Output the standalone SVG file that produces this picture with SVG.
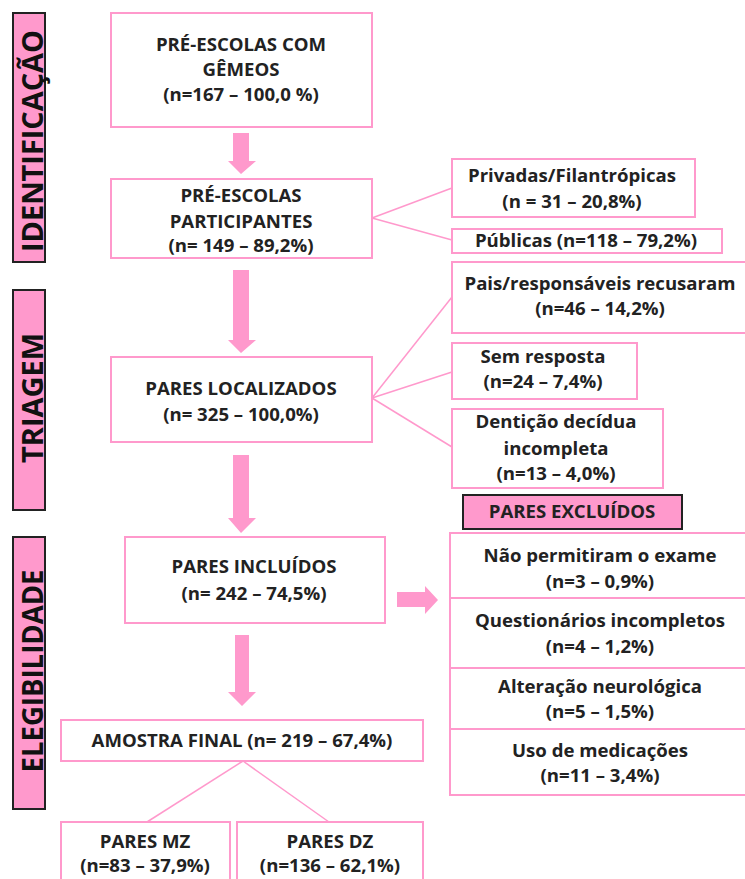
<svg xmlns="http://www.w3.org/2000/svg" width="745" height="879" viewBox="0 0 745 879">
<style>
.bx{fill:#fff;stroke:#ff99cc;stroke-width:2}
.lb{fill:#ff99cc;stroke:#222;stroke-width:2}
.t{font-family:"Open Sans","Noto Sans","Liberation Sans",sans-serif;font-weight:bold;font-size:18.6px;fill:#222;text-anchor:middle}
.v{font-family:"Open Sans","Noto Sans","Liberation Sans",sans-serif;font-weight:bold;font-size:28px;fill:#111;text-anchor:middle}
.ln{stroke:#ff99cc;stroke-width:1.5;fill:none}
.ar{fill:#ff99cc}
</style>
<rect width="745" height="879" fill="#fff"/>
<g id="lbl-identificacao"><rect class="lb" x="13" y="13" width="32" height="249"/><text class="v" transform="translate(43,141) rotate(-90)" textLength="222" lengthAdjust="spacingAndGlyphs">IDENTIFICAÇÃO</text></g>
<g id="lbl-triagem"><rect class="lb" x="13" y="290" width="32" height="220"/><text class="v" transform="translate(43,398) rotate(-90)" textLength="130" lengthAdjust="spacingAndGlyphs">TRIAGEM</text></g>
<g id="lbl-elegibilidade"><rect class="lb" x="13" y="537" width="32" height="272"/><text class="v" transform="translate(43,671) rotate(-90)" textLength="203" lengthAdjust="spacingAndGlyphs">ELEGIBILIDADE</text></g>

<g id="connectors">
<polygon class="ar" points="233,133 249,133 249,161 256,161 241,174 228,161 233,161"/>
<polygon class="ar" points="233,270 249,270 249,340 256,340 241,353 228,340 233,340"/>
<polygon class="ar" points="233,455 249,455 249,518 256,518 241,533 228,518 233,518"/>
<polygon class="ar" points="235,635 249,635 249,692 256,692 242,706 228,692 235,692"/>
<polygon class="ar" points="397,592 425,592 425,586 438,600 425,614 425,607 397,607"/>
<line class="ln" x1="372" y1="218" x2="452" y2="188"/>
<line class="ln" x1="372" y1="218" x2="452" y2="240"/>
<line class="ln" x1="372" y1="398" x2="452" y2="297"/>
<line class="ln" x1="372" y1="398" x2="452" y2="372"/>
<line class="ln" x1="372" y1="398" x2="452" y2="447"/>
<line class="ln" x1="243" y1="761" x2="147" y2="822"/>
<line class="ln" x1="243" y1="761" x2="329" y2="822"/>
</g>

<g id="n-preescolas"><rect class="bx" x="111" y="13" width="261" height="114"/><text class="t" x="241" y="51">PRÉ-ESCOLAS COM</text><text class="t" x="241" y="76">GÊMEOS</text><text class="t" x="241" y="101">(n=167 – 100,0 %)</text></g>
<g id="n-participantes"><rect class="bx" x="111" y="179" width="261" height="79"/><text class="t" x="241" y="202">PRÉ-ESCOLAS</text><text class="t" x="241" y="228">PARTICIPANTES</text><text class="t" x="241" y="252">(n= 149 – 89,2%)</text></g>
<g id="n-localizados"><rect class="bx" x="111" y="357" width="261" height="85"/><text class="t" x="241" y="395">PARES LOCALIZADOS</text><text class="t" x="241" y="421">(n= 325 – 100,0%)</text></g>
<g id="n-incluidos"><rect class="bx" x="125" y="537" width="260" height="86"/><text class="t" x="254" y="573">PARES INCLUÍDOS</text><text class="t" x="254" y="600">(n= 242 – 74,5%)</text></g>
<g id="n-amostra"><rect class="bx" x="61" y="720" width="362" height="41"/><text class="t" x="242" y="747">AMOSTRA FINAL (n= 219 – 67,4%)</text></g>
<g id="n-mz"><rect class="bx" x="61" y="822" width="169" height="70"/><text class="t" x="145" y="848">PARES MZ</text><text class="t" x="145" y="872">(n=83 – 37,9%)</text></g>
<g id="n-dz"><rect class="bx" x="237" y="822" width="186" height="70"/><text class="t" x="330" y="848">PARES DZ</text><text class="t" x="330" y="872">(n=136 – 62,1%)</text></g>

<g id="n-privadas"><rect class="bx" x="452" y="159" width="243" height="58"/><text class="t" x="572" y="182">Privadas/Filantrópicas</text><text class="t" x="572" y="208">(n = 31 – 20,8%)</text></g>
<g id="n-publicas"><rect class="bx" x="452" y="229" width="270" height="24"/><text class="t" x="586" y="247">Públicas (n=118 – 79,2%)</text></g>
<g id="n-recusaram"><rect class="bx" x="452" y="262" width="295" height="71"/><text class="t" x="600" y="290">Pais/responsáveis recusaram</text><text class="t" x="600" y="315">(n=46 – 14,2%)</text></g>
<g id="n-semresposta"><rect class="bx" x="452" y="343" width="185" height="56"/><text class="t" x="543" y="363">Sem resposta</text><text class="t" x="543" y="388">(n=24 – 7,4%)</text></g>
<g id="n-denticao"><rect class="bx" x="452" y="409" width="211" height="79"/><text class="t" x="556" y="428">Dentição decídua</text><text class="t" x="556" y="455">incompleta</text><text class="t" x="556" y="480">(n=13 – 4,0%)</text></g>

<g id="lbl-excluidos"><rect class="lb" x="463" y="495" width="219" height="34"/><text class="t" x="572" y="518">PARES EXCLUÍDOS</text></g>
<g id="n-exame"><rect class="bx" x="450" y="533" width="300" height="65"/><text class="t" x="600" y="562">Não permitiram o exame</text><text class="t" x="600" y="588">(n=3 – 0,9%)</text></g>
<g id="n-questionarios"><rect class="bx" x="450" y="598" width="300" height="70"/><text class="t" x="600" y="627">Questionários incompletos</text><text class="t" x="600" y="653">(n=4 – 1,2%)</text></g>
<g id="n-neurologica"><rect class="bx" x="450" y="668" width="300" height="61"/><text class="t" x="600" y="693">Alteração neurológica</text><text class="t" x="600" y="718">(n=5 – 1,5%)</text></g>
<g id="n-medicacoes"><rect class="bx" x="450" y="729" width="300" height="66"/><text class="t" x="600" y="757">Uso de medicações</text><text class="t" x="600" y="782">(n=11 – 3,4%)</text></g>
</svg>
